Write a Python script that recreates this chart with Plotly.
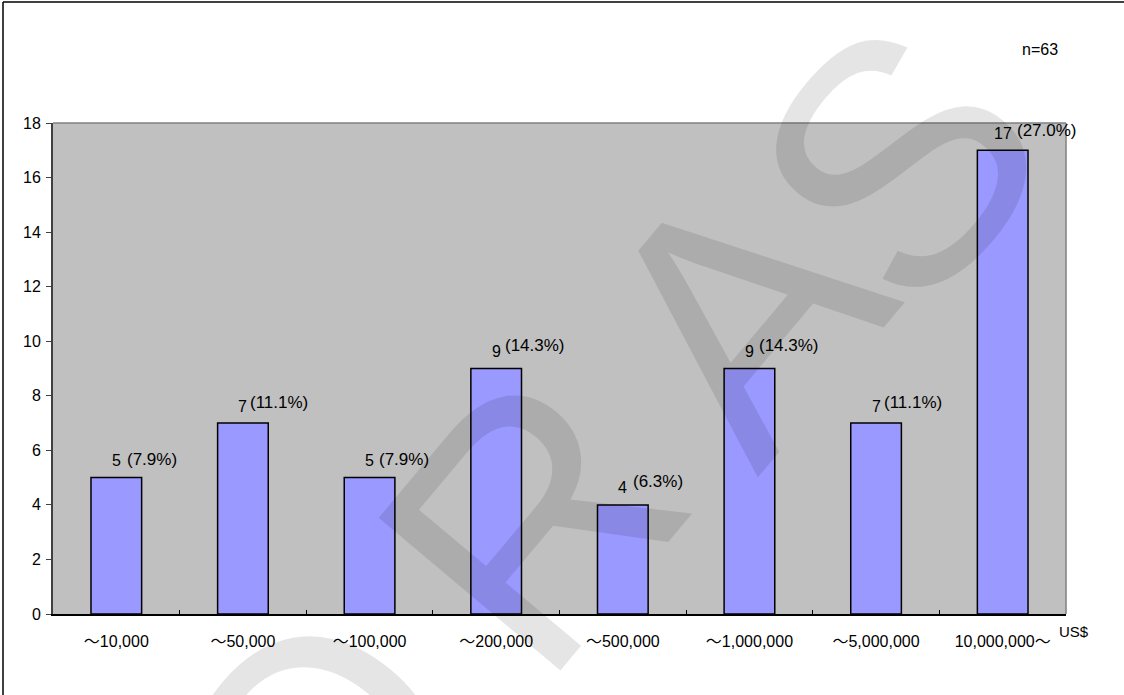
import plotly.graph_objects as go

# ---- data ----
categories = ["～10,000", "～50,000", "～100,000", "～200,000",
              "～500,000", "～1,000,000", "～5,000,000", "10,000,000～"]
counts = [5, 7, 5, 9, 4, 9, 7, 17]
percents = [7.9, 11.1, 7.9, 14.3, 6.3, 14.3, 11.1, 27.0]
y_ticks = [0, 2, 4, 6, 8, 10, 12, 14, 16, 18]
n_label = "n=63"
unit_label = "US$"

# ---- label placement (pixels, relative to bar centre / bar top) ----
pct_dx = [10, 6, 8.5, 8, 9.5, 9, 7, 13.5]
pct_dy = [18.6, 21, 18.6, 23, 23, 23, 21, 20]
num_dy = 17

W, H = 1124, 695
L, R, T, B = 53, 58, 123, 81
PW, PH = W - L - R, H - T - B


def px(xp):
    return (xp - L) / PW


def py(yp):
    return (T + PH - yp) / PH


FONT = "Arial, Liberation Sans, Noto Sans CJK JP, sans-serif"

fig = go.Figure()
fig.add_trace(go.Bar(
    x=categories, y=counts, width=0.4,
    marker=dict(color="#9999FF", line=dict(color="#000000", width=1.5)),
    hoverinfo="skip", showlegend=False,
))

ann = []
for i, (c, v) in enumerate(zip(categories, counts)):
    ann.append(dict(x=c, y=v, xref="x", yref="y", text=str(v), showarrow=False,
                    xanchor="center", yanchor="middle", yshift=num_dy,
                    font=dict(family=FONT, size=16, color="#000000")))
    ann.append(dict(x=c, y=v, xref="x", yref="y", text=f"({percents[i]:.1f}%)",
                    showarrow=False, xanchor="left", yanchor="middle",
                    xshift=pct_dx[i] - 1, yshift=pct_dy[i],
                    font=dict(family=FONT, size=17, color="#000000")))

ann.append(dict(x=px(1040), y=py(50), xref="paper", yref="paper", text=n_label,
                showarrow=False, xanchor="center", yanchor="middle",
                font=dict(family=FONT, size=16, color="#000000")))
ann.append(dict(x=px(1057), y=py(631.5), xref="paper", yref="paper", text=unit_label,
                showarrow=False, xanchor="left", yanchor="middle",
                font=dict(family=FONT, size=15, color="#000000")))

# watermark letters
wm = [("O", 315, 760), ("R", 530, 520), ("A", 740, 312), ("S", 898, 162)]
for ch, wx, wy in wm:
    ann.append(dict(x=px(wx), y=py(wy), xref="paper", yref="paper", text=ch,
                    showarrow=False, xanchor="center", yanchor="middle",
                    textangle=-50,
                    font=dict(family=FONT, size=345, color="rgba(0,0,0,0.10)")))

shapes = [
    dict(type="line", xref="paper", yref="paper", x0=0, x1=1, y0=1, y1=1,
         line=dict(color="#808080", width=1.5)),
    dict(type="line", xref="paper", yref="paper", x0=1, x1=1, y0=0, y1=1,
         line=dict(color="#808080", width=1.5)),
    dict(type="line", xref="paper", yref="paper", x0=px(3), x1=px(3), y0=py(2), y1=py(H + 5),
         line=dict(color="#000000", width=1.5)),
    dict(type="line", xref="paper", yref="paper", x0=px(3), x1=px(W + 5), y0=py(2), y1=py(2),
         line=dict(color="#000000", width=1.5)),
]

fig.update_layout(
    width=W, height=H, autosize=False,
    margin=dict(l=L, r=R, t=T, b=B, pad=0),
    paper_bgcolor="#FFFFFF", plot_bgcolor="#C0C0C0",
    font=dict(family=FONT, size=16, color="#000000"),
    annotations=ann, shapes=shapes, showlegend=False,
    xaxis=dict(type="category", range=[-0.5, len(categories) - 0.5],
               showline=True, linecolor="#000000", linewidth=1.5,
               ticks="inside", tickson="boundaries", ticklen=4, tickcolor="#000000",
               tickwidth=1, showgrid=False, zeroline=False,
               tickfont=dict(family=FONT, size=16), ticklabelstandoff=12),
    yaxis=dict(range=[0, 18], tickvals=y_ticks, showline=True, linecolor="#404040",
               linewidth=2, ticks="outside", ticklen=5, tickcolor="#404040", tickwidth=1,
               showgrid=False, zeroline=False,
               tickfont=dict(family=FONT, size=16), ticklabelstandoff=2),
)

fig.write_html("out.html")
